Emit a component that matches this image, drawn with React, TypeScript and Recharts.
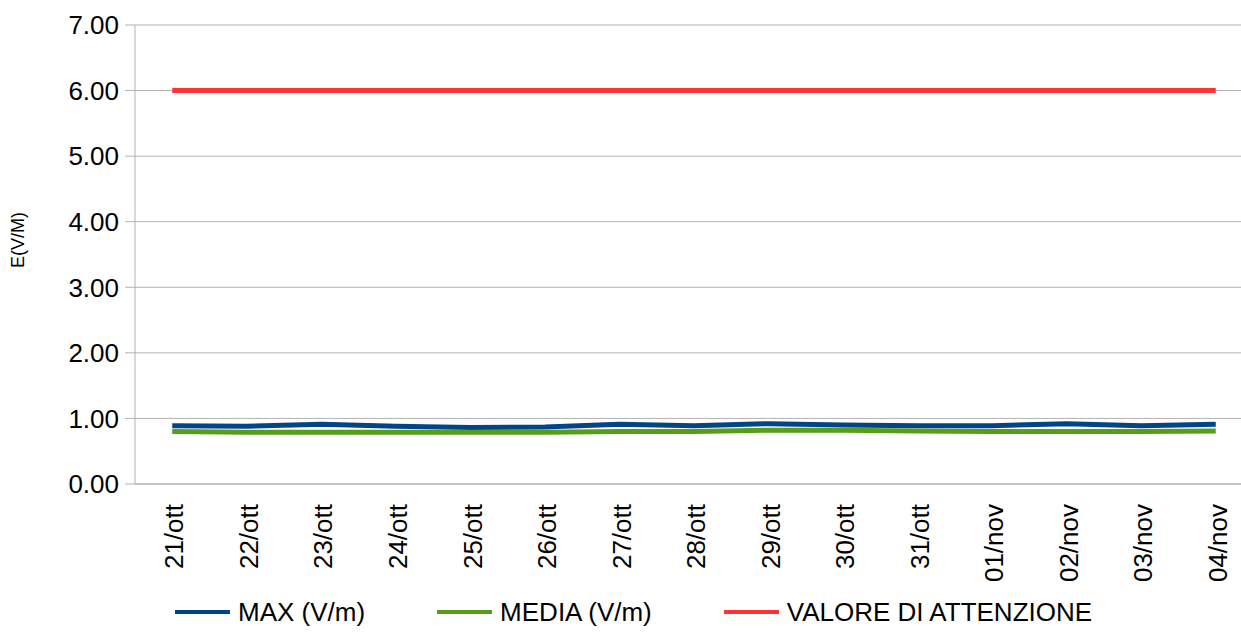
import React from "react";
import { CartesianGrid, Label, Line, LineChart, XAxis, YAxis } from "recharts";

const days = [
  "21/ott", "22/ott", "23/ott", "24/ott", "25/ott", "26/ott", "27/ott", "28/ott",
  "29/ott", "30/ott", "31/ott", "01/nov", "02/nov", "03/nov", "04/nov",
];
const maxValues = [0.89, 0.88, 0.91, 0.88, 0.86, 0.87, 0.91, 0.89, 0.92, 0.9, 0.89, 0.89, 0.92, 0.89, 0.91];
const mediaValues = [0.8, 0.79, 0.79, 0.79, 0.79, 0.79, 0.8, 0.8, 0.82, 0.82, 0.81, 0.8, 0.8, 0.8, 0.81];
const attentionValues = [6, 6, 6, 6, 6, 6, 6, 6, 6, 6, 6, 6, 6, 6, 6];
const yTicks = [0, 1, 2, 3, 4, 5, 6, 7];
const boundaryTicks = [0, 1, 2, 3, 4, 5, 6, 7, 8, 9, 10, 11, 12, 13, 14, 15];

const series = [
  { key: "max", name: "MAX (V/m)", color: "#004586" },
  { key: "media", name: "MEDIA (V/m)", color: "#579d1c" },
  { key: "attenzione", name: "VALORE DI ATTENZIONE", color: "#ff3333" },
];

const data = days.map((day, i) => ({
  day,
  max: maxValues[i],
  media: mediaValues[i],
  attenzione: attentionValues[i],
}));

const FONT = "'Liberation Sans', Arial, sans-serif";
const BAND = 74.5;

// rotated date labels, reading bottom to top
const DayTick = (props: any) => {
  const { x, y, payload } = props;
  return (
    <text
      transform={`translate(${x + 2},${y + 18}) rotate(-90)`}
      textAnchor="end"
      dy="0.35em"
      fontSize={26}
      fontFamily={FONT}
      fill="#000"
    >
      {payload.value}
    </text>
  );
};

export default function App() {
  return (
    <div style={{ position: "absolute", left: 0, top: 0, width: 1241, height: 633, overflow: "hidden", background: "#fff" }}>
      <LineChart
        width={1260}
        height={633}
        data={data}
        margin={{ top: 25, right: 7, left: 35, bottom: 0 }}
      >
        <CartesianGrid vertical={false} stroke="#b3b3b3" strokeWidth={1} />
        <XAxis
          xAxisId="bounds"
          type="number"
          domain={[0, 15]}
          ticks={boundaryTicks}
          interval={0}
          tick={false}
          tickSize={10}
          height={0}
          stroke="#b3b3b3"
        />
        <XAxis
          xAxisId="days"
          dataKey="day"
          padding={{ left: BAND / 2, right: BAND / 2 }}
          interval={0}
          tickLine={false}
          tickSize={0}
          tick={<DayTick />}
          height={149}
          stroke="#b3b3b3"
        />
        <YAxis
          domain={[0, 7]}
          ticks={yTicks}
          interval={0}
          width={100}
          tickSize={10}
          tickMargin={6}
          stroke="#b3b3b3"
          tickFormatter={(v: number) => v.toFixed(2)}
          tick={{ fill: "#000", fontSize: 26, fontFamily: FONT }}
        >
          <Label
            content={() => (
              <text
                transform="translate(18,240) rotate(-90)"
                textAnchor="middle"
                dy="0.35em"
                fontSize={18}
                fontFamily={FONT}
                fill="#000"
              >
                E(V/M)
              </text>
            )}
          />
        </YAxis>
        {series.map((s) => (
          <Line
            key={s.key}
            xAxisId="days"
            dataKey={s.key}
            name={s.name}
            stroke={s.color}
            strokeWidth={5}
            dot={false}
            activeDot={false}
            type="linear"
            isAnimationActive={false}
          />
        ))}
      </LineChart>
      <div
        style={{
          position: "absolute",
          left: 175,
          top: 597,
          height: 30,
          display: "flex",
          alignItems: "center",
          fontFamily: FONT,
          fontSize: 26,
          color: "#000",
          whiteSpace: "nowrap",
        }}
      >
        {series.map((s) => (
          <div key={s.key} style={{ display: "flex", alignItems: "center", marginRight: 72 }}>
            <div style={{ width: 55, height: 4, background: s.color, marginRight: 8 }} />
            <span>{s.name}</span>
          </div>
        ))}
      </div>
    </div>
  );
}
